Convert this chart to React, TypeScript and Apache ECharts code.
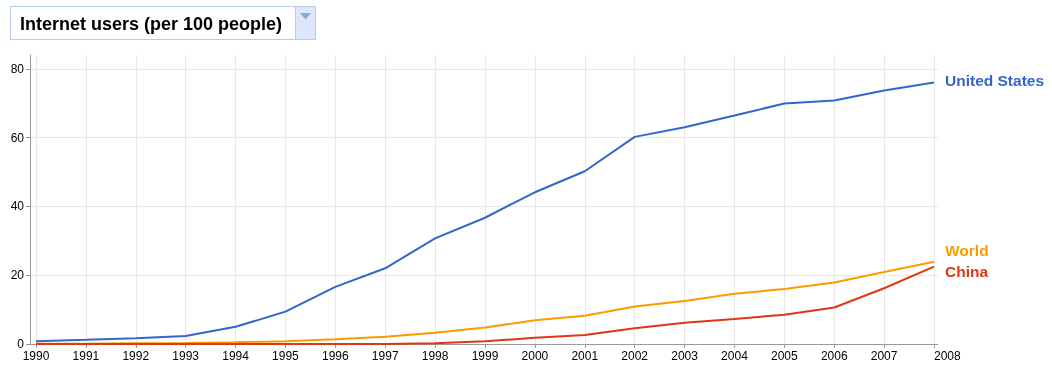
import React, { useEffect, useRef } from "react";
import * as echarts from "echarts";

const years = [1990, 1991, 1992, 1993, 1994, 1995, 1996, 1997, 1998, 1999, 2000, 2001, 2002, 2003, 2004, 2005, 2006, 2007, 2008];
const unitedStates = [0.8, 1.2, 1.7, 2.3, 5.0, 9.4, 16.6, 22.0, 30.7, 36.7, 44.1, 50.2, 60.2, 63.0, 66.4, 69.9, 70.8, 73.7, 76.0];
const world = [0.05, 0.1, 0.2, 0.3, 0.5, 0.8, 1.4, 2.1, 3.3, 4.8, 6.9, 8.2, 10.9, 12.5, 14.6, 16.0, 17.9, 20.9, 23.9];
const china = [0, 0, 0, 0.0, 0.0, 0.0, 0.0, 0.0, 0.2, 0.8, 1.8, 2.6, 4.6, 6.2, 7.3, 8.5, 10.6, 16.2, 22.5];
const yTicks = [0, 20, 40, 60, 80];
const title = "Internet users (per 100 people)";

const FONT = "'Liberation Sans', Arial, sans-serif";

export default function App() {
  const ref = useRef<HTMLDivElement>(null);
  useEffect(() => {
    if (!ref.current) return;
    const chart = echarts.init(ref.current, null, { renderer: "svg" });
    const mk = (name: string, data: number[], color: string, offset: number[]) => ({
      name,
      type: "line",
      data: years.map((y, i) => [y, data[i]]),
      showSymbol: false,
      symbol: "none",
      lineStyle: { color, width: 2 },
      itemStyle: { color },
      endLabel: {
        show: true,
        formatter: name,
        color,
        fontFamily: FONT,
        fontWeight: "bold",
        fontSize: 15.5,
        distance: 11,
        offset,
      },
      emphasis: { disabled: true },
    });
    chart.setOption({
      animation: false,
      textStyle: { fontFamily: FONT },
      grid: { left: 30, right: 114, top: 55, bottom: 27 },
      xAxis: {
        type: "value",
        min: 1989.88,
        max: 2008.08,
        axisLine: { show: true, lineStyle: { color: "#999", width: 1 } },
        axisTick: { show: true, length: 4, customValues: years, lineStyle: { color: "#999" } },
        axisLabel: {
          customValues: years,
          formatter: (v: number) => String(v),
          color: "#000",
          fontSize: 12,
          margin: 6,
          fontFamily: FONT,
          alignMaxLabel: "left",
        },
        splitLine: { show: true, lineStyle: { color: "#e8e8e8", width: 1 } },
      },
      yAxis: {
        type: "value",
        min: 0,
        max: 84,
        axisLine: { show: true, lineStyle: { color: "#999", width: 1 } },
        axisTick: { show: true, length: 4, customValues: yTicks, lineStyle: { color: "#999" } },
        axisLabel: {
          customValues: yTicks,
          color: "#000",
          fontSize: 12,
          margin: 6,
          fontFamily: FONT,
        },
        splitLine: { show: true, lineStyle: { color: "#e8e8e8", width: 1 } },
      },
      graphic: [
        {
          type: "rect",
          shape: { x: 295.5, y: 6.5, width: 20, height: 33 },
          style: { fill: "#dde6fa", stroke: "none" },
        },
        {
          type: "rect",
          shape: { x: 10.5, y: 6.5, width: 305, height: 33 },
          style: { fill: "none", stroke: "#b9cbf0", lineWidth: 1 },
        },
        {
          type: "line",
          shape: { x1: 295.5, y1: 6.5, x2: 295.5, y2: 39.5 },
          style: { stroke: "#b9cbf0", lineWidth: 1 },
        },
        {
          type: "polygon",
          shape: { points: [[300, 13], [311, 13], [305.5, 19.5]] },
          style: { fill: "#8ea8e2" },
        },
        {
          type: "text",
          x: 20,
          y: 24,
          style: {
            text: title,
            fill: "#000",
            font: `bold 18px ${FONT}`,
            textVerticalAlign: "middle",
            verticalAlign: "middle",
          },
        },
      ],
      series: [
        mk("United States", unitedStates, "#3366cc", [0, -2]),
        mk("World", world, "#ff9900", [0, -11]),
        mk("China", china, "#dc3912", [0, 5]),
      ],
    });
    return () => chart.dispose();
  }, []);
  return <div ref={ref} style={{ position: "fixed", left: 0, top: 0, width: 1052, height: 371 }} />;
}
